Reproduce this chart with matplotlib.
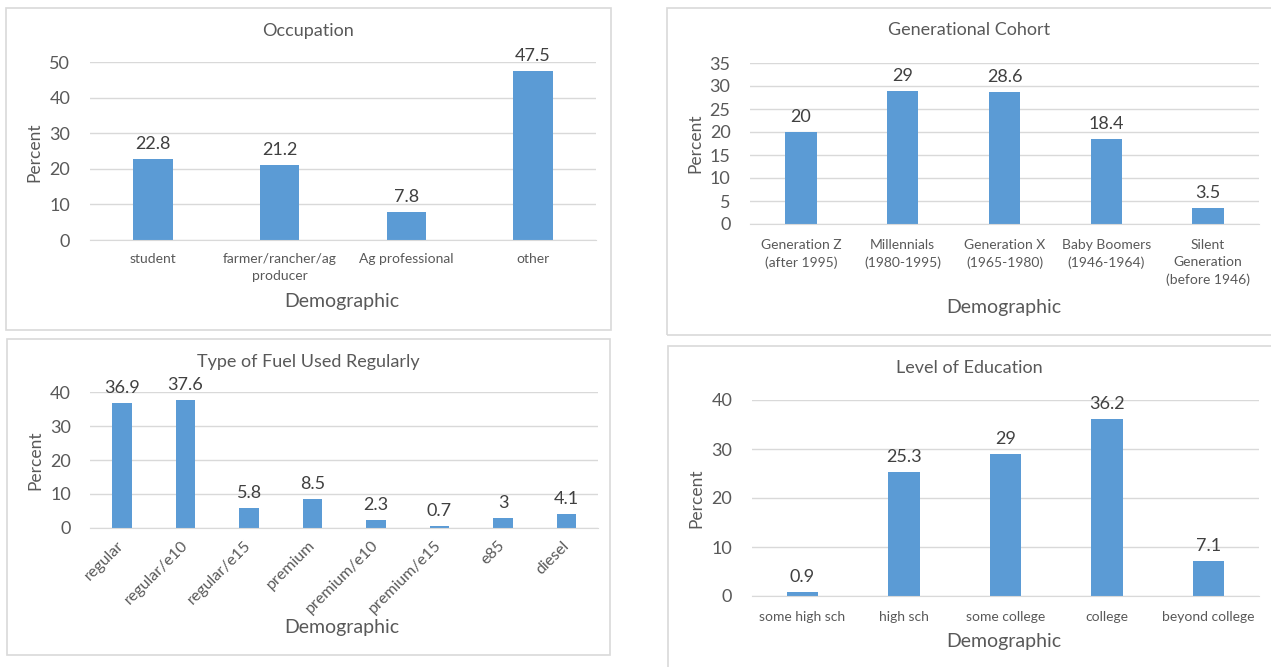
import matplotlib
matplotlib.use("Agg")
import matplotlib.pyplot as plt
from matplotlib.patches import Rectangle
import numpy as np

plt.rcParams['font.family'] = ['Lato', 'DejaVu Sans']

# survey breakdowns, percent of respondents
occ_cats = ['student', 'farmer/rancher/ag\nproducer', 'Ag professional', 'other']
occ_vals = [22.8, 21.2, 7.8, 47.5]

gen_cats = ['Generation Z\n(after 1995)', 'Millennials\n(1980-1995)', 'Generation X\n(1965-1980)',
            'Baby Boomers\n(1946-1964)', 'Silent\nGeneration\n(before 1946)']
gen_vals = [20, 29, 28.6, 18.4, 3.5]

fuel_cats = ['regular', 'regular/e10', 'regular/e15', 'premium', 'premium/e10',
             'premium/e15', 'e85', 'diesel']
fuel_vals = [36.9, 37.6, 5.8, 8.5, 2.3, 0.7, 3, 4.1]

edu_cats = ['some high sch', 'high sch', 'some college', 'college', 'beyond college']
edu_vals = [0.9, 25.3, 29, 36.2, 7.1]

BLUE = '#5B9BD5'
GRID = '#D9D9D9'
TXT = '#595959'
LBL = '#404040'

W, H = 1271, 667
fig = plt.figure(figsize=(W / 100, H / 100), dpi=100)
fig.patch.set_facecolor('white')


def fx(x):
    return x / W


def fy(y):
    return 1 - y / H


def box(x0, y0, x1, y1):
    fig.add_artist(Rectangle((fx(x0), fy(y1)), (x1 - x0) / W, (y1 - y0) / H,
                             transform=fig.transFigure, fill=False,
                             ec=GRID, lw=1.2))


def panel(x0, x1, y0, y1, cats, vals, ymax, step, title, tpos, xlpos, ylpos,
          rotate=False, xpad=9.5):
    ax = fig.add_axes([fx(x0), fy(y1), (x1 - x0) / W, (y1 - y0) / H])
    ax.patch.set_alpha(0)
    x = np.arange(len(cats))
    bars = ax.bar(x, vals, width=0.31, color=BLUE, zorder=2)
    ax.set_xlim(-0.5, len(cats) - 0.5)
    ax.set_ylim(0, ymax)
    ax.set_yticks(np.arange(0, ymax + 0.1, step))
    ax.yaxis.grid(True, color=GRID, lw=1)
    ax.set_axisbelow(True)
    for s in ('top', 'left', 'right'):
        ax.spines[s].set_visible(False)
    ax.spines['bottom'].set_color(GRID)
    ax.tick_params(axis='y', length=0, pad=14, labelsize=13, labelcolor=TXT)
    ax.bar_label(bars, labels=[f'{v:g}' for v in vals], padding=5,
                 fontsize=13, color=LBL)
    if rotate:
        ax.set_xticks(x, cats, rotation=45, ha='right', va='center',
                      rotation_mode='anchor')
        ax.tick_params(axis='x', length=0, pad=11, labelsize=11.5, labelcolor=TXT)
    else:
        ax.set_xticks(x, cats, linespacing=1.55)
        ax.tick_params(axis='x', length=0, pad=xpad, labelsize=10, labelcolor=TXT)
    fig.text(fx(tpos[0]), fy(tpos[1]), title, ha='center', va='center',
             fontsize=13, color=TXT)
    fig.text(fx(xlpos[0]), fy(xlpos[1]), 'Demographic', ha='center',
             va='center', fontsize=14, color=TXT)
    fig.text(fx(ylpos[0]), fy(ylpos[1]), 'Percent', ha='center', va='center',
             rotation=90, fontsize=12.5, color=TXT)
    return ax


box(6, 8, 611, 330)
box(667, 8, 1280, 335)
box(7, 339, 610, 655)
box(668, 346, 1280, 680)

panel(89.7, 596.3, 62, 240, occ_cats, occ_vals, 50, 10, 'Occupation',
      (308, 31), (342, 302), (34, 152), xpad=9)
panel(750, 1259, 63, 224, gen_cats, gen_vals, 35, 5, 'Generational Cohort',
      (969, 30), (1004, 307), (695, 143), xpad=10.5)
panel(90.3, 598.3, 392, 528, fuel_cats, fuel_vals, 40, 10,
      'Type of Fuel Used Regularly', (308, 362), (342, 628), (35, 460),
      rotate=True)
panel(751.8, 1259, 400, 596, edu_cats, edu_vals, 40, 10, 'Level of Education',
      (969, 368), (1004, 641), (696, 498), xpad=11)

fig.savefig('out.png', dpi=100)
